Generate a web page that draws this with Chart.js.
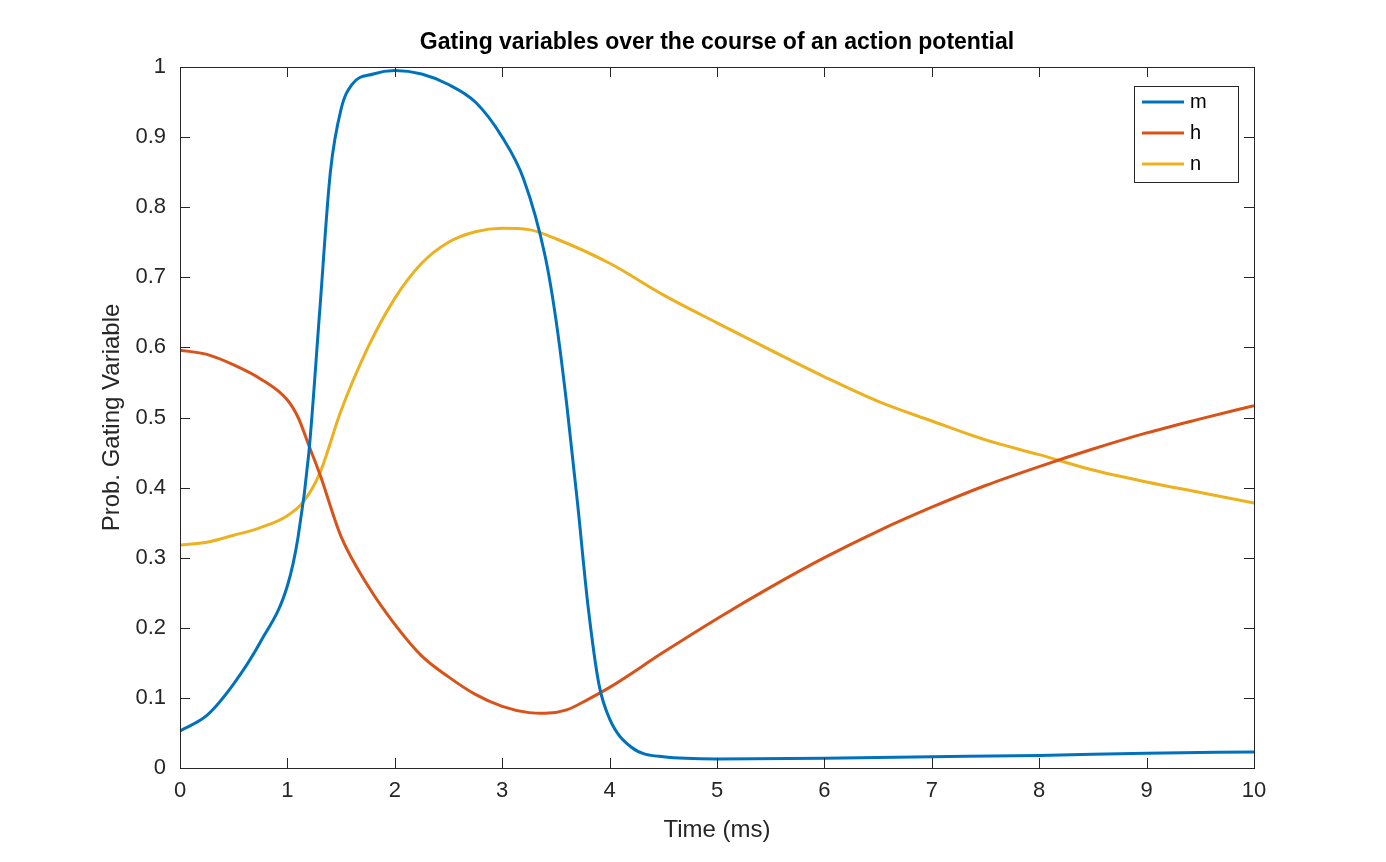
<!DOCTYPE html>
<html>
<head>
<meta charset="utf-8">
<script src="https://cdn.jsdelivr.net/npm/chart.js@4.4.1/dist/chart.umd.min.js"></script>
<style>
  html, body { margin: 0; padding: 0; background: #fff; }
  #wrap { width: 1386px; height: 862px; }
</style>
</head>
<body>
<div id="wrap"><canvas id="chart" width="1386" height="862"></canvas></div>
<script>
// time (ms) and values
const tM = [0,0.25,0.5,0.75,1.0,1.1,1.2,1.3,1.4,1.5,1.6,1.8,2.0,2.25,2.5,2.75,3.0,3.2,3.4,3.5,3.6,3.7,3.8,3.9,4.0,4.2,4.5,5,6,7,8,9,10];
const mVals = [0.053,0.075,0.12,0.18,0.26,0.33,0.45,0.65,0.85,0.94,0.975,0.99,0.995,0.99,0.975,0.95,0.9,0.84,0.73,0.64,0.52,0.38,0.23,0.12,0.07,0.03,0.016,0.013,0.014,0.016,0.018,0.021,0.023];

const tH = [0,0.25,0.5,0.75,1.0,1.1,1.2,1.3,1.5,1.75,2.0,2.25,2.5,2.75,3.0,3.25,3.4,3.6,3.8,4.0,4.5,5,5.5,6,6.5,7,7.5,8,8.5,9,9.5,10];
const hVals = [0.596,0.59,0.575,0.555,0.525,0.5,0.46,0.42,0.33,0.26,0.205,0.16,0.13,0.105,0.088,0.079,0.078,0.083,0.098,0.115,0.165,0.213,0.258,0.3,0.338,0.372,0.403,0.43,0.455,0.478,0.498,0.517];

const tN = [0,0.25,0.5,0.75,1.0,1.15,1.3,1.5,1.75,2.0,2.25,2.5,2.75,3.0,3.25,3.5,4.0,4.5,5,5.5,6,6.5,7,7.5,8,8.5,9,9.5,10];
const nVals = [0.318,0.322,0.332,0.343,0.36,0.38,0.42,0.51,0.6,0.67,0.72,0.75,0.765,0.77,0.768,0.755,0.72,0.675,0.635,0.596,0.558,0.523,0.495,0.468,0.447,0.425,0.408,0.393,0.378];

const labels = ['m', 'h', 'n'];
const colors = ['#0072BD', '#D95319', '#EDB120'];

function pts(t, v){ return t.map((x, i) => ({x, y: v[i]})); }
const series = [pts(tM, mVals), pts(tH, hVals), pts(tN, nVals)];

const FONT = 'Helvetica, "Liberation Sans", Arial, sans-serif';

const framePlugin = {
  id: 'frame',
  afterDraw(chart){
    const {ctx, chartArea: a, scales} = chart;
    ctx.save();
    ctx.strokeStyle = '#262626';
    ctx.lineWidth = 1;
    ctx.strokeRect(a.left + 0.5, a.top + 0.5, a.right - a.left, a.bottom - a.top);
    // inward ticks
    const L = 10;
    for (let v = 0; v <= 10; v++){
      const x = Math.round(scales.x.getPixelForValue(v)) + 0.5;
      ctx.beginPath();
      ctx.moveTo(x, a.bottom); ctx.lineTo(x, a.bottom - L);
      ctx.moveTo(x, a.top); ctx.lineTo(x, a.top + L);
      ctx.stroke();
    }
    for (let i = 0; i <= 10; i++){
      const y = Math.round(scales.y.getPixelForValue(i / 10)) + 0.5;
      ctx.beginPath();
      ctx.moveTo(a.left, y); ctx.lineTo(a.left + L, y);
      ctx.moveTo(a.right, y); ctx.lineTo(a.right - L, y);
      ctx.stroke();
    }
    // title
    ctx.fillStyle = '#000';
    ctx.font = 'bold 23px ' + FONT;
    ctx.textAlign = 'center';
    ctx.textBaseline = 'middle';
    ctx.fillText('Gating variables over the course of an action potential', (a.left + a.right) / 2, 43);
    // axis titles
    ctx.fillStyle = '#262626';
    ctx.font = '24px ' + FONT;
    ctx.fillText('Time (ms)', (a.left + a.right) / 2, 830);
    ctx.save();
    ctx.translate(112, (a.top + a.bottom) / 2);
    ctx.rotate(-Math.PI / 2);
    ctx.fillText('Prob. Gating Variable', 0, 0);
    ctx.restore();
    // legend box
    const bx = 1134, by = 86, bw = 104, bh = 96;
    ctx.fillStyle = '#fff';
    ctx.fillRect(bx, by, bw, bh);
    ctx.strokeStyle = '#262626';
    ctx.lineWidth = 1;
    ctx.strokeRect(bx + 0.5, by + 0.5, bw, bh);
    ctx.font = '20px ' + FONT;
    ctx.textAlign = 'left';
    labels.forEach((lab, i) => {
      const y = 102 + i * 31;
      ctx.strokeStyle = colors[i];
      ctx.lineWidth = 3;
      ctx.beginPath(); ctx.moveTo(bx + 8, y); ctx.lineTo(bx + 50, y); ctx.stroke();
      ctx.fillStyle = '#000';
      ctx.fillText(lab, bx + 56, y);
    });
    ctx.restore();
  }
};

new Chart(document.getElementById('chart'), {
  type: 'line',
  data: {
    datasets: series.map((d, i) => ({
      label: labels[i], data: d, borderColor: colors[i], borderWidth: 3,
      pointRadius: 0, tension: 0.4, cubicInterpolationMode: 'monotone'
    }))
  },
  options: {
    responsive: false,
    animation: false,
    layout: { padding: { top: 67, right: 132, left: 0, bottom: 0 } },
    plugins: { legend: { display: false }, tooltip: { enabled: false } },
    scales: {
      x: {
        type: 'linear', min: 0, max: 10,
        grid: { display: false }, border: { display: false },
        ticks: { stepSize: 1, color: '#262626', font: { size: 22, family: FONT }, padding: 2, maxRotation: 0 },
        afterFit(s){ s.height = 94; }
      },
      y: {
        min: 0, max: 1,
        grid: { display: false }, border: { display: false },
        ticks: { stepSize: 0.1, color: '#262626', font: { size: 22, family: FONT }, padding: 6,
          callback: v => Math.round(v * 10) / 10 + '' },
        afterFit(s){ s.width = 180; }
      }
    }
  },
  plugins: [framePlugin]
});
</script>
</body>
</html>
